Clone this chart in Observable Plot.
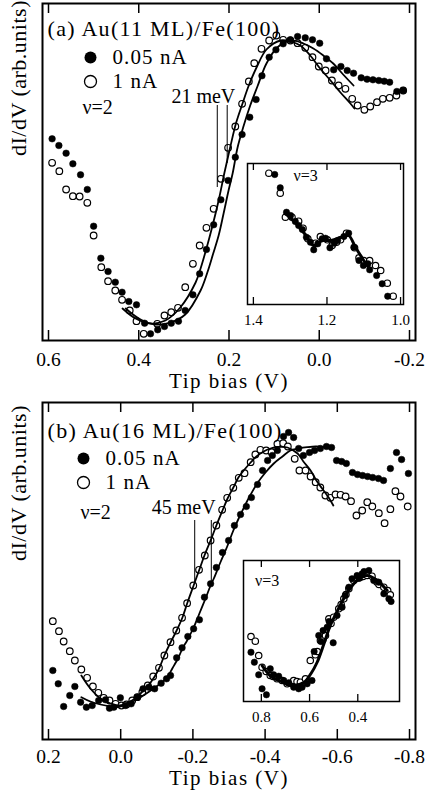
<!DOCTYPE html>
<html><head><meta charset="utf-8">
<script src="https://cdn.jsdelivr.net/npm/d3@7"></script>
<script src="https://cdn.jsdelivr.net/npm/@observablehq/plot@0.6"></script>
<style>
body{margin:0;background:#fff}
#fig{position:relative;width:428px;height:795px;background:#fff;overflow:hidden}
#fig svg{position:absolute;overflow:visible;background:transparent}
#fig svg, #fig svg text, #fig svg g{font-family:"Liberation Serif","Times New Roman",serif !important}
</style></head><body><div id="fig"></div>
<script>
// ---------- Panel (a): Au(11 ML)/Fe(100) ----------
const aTitle = "(a) Au(11 ML)/Fe(100)";
const aTicks = [0.6, 0.4, 0.2, 0.0, -0.2];
const aTickLabels = ["0.6", "0.4", "0.2", "0.0", "-0.2"];
const aFilled = [[0.592,201.7],[0.577,195],[0.561,187.3],[0.546,176.7],[0.529,165.7],[0.514,151],[0.500,114.3],[0.484,82.3],[0.468,69],[0.452,58.3],[0.437,48.3],[0.422,39],[0.405,35.7],[0.387,17.3],[0.374,6.7],[0.358,10.7],[0.343,14],[0.328,17.3],[0.312,19.3],[0.297,30],[0.280,45.7],[0.265,66.7],[0.250,91],[0.234,115.7],[0.218,140.7],[0.202,160],[0.186,183.3],[0.171,206],[0.154,223.3],[0.140,241],[0.127,264.7],[0.111,283.3],[0.096,290.7],[0.080,296.7],[0.064,300.7],[0.048,304],[0.031,302.7],[0.015,300.7],[-0.001,297.3],[-0.016,281.7],[-0.032,270.7],[-0.048,274],[-0.062,270],[-0.076,267.3],[-0.093,262.7],[-0.106,261.3],[-0.119,260.7],[-0.132,260],[-0.144,259.3],[-0.156,258.3],[-0.172,249],[-0.186,250]];
const aOpen = [[0.592,177.7],[0.576,169.3],[0.561,151],[0.546,144.3],[0.531,144],[0.514,137.7],[0.500,105],[0.483,73.3],[0.468,59.3],[0.452,50],[0.437,40.7],[0.420,30],[0.405,19.3],[0.389,6.7],[0.359,16.7],[0.343,25],[0.328,28.3],[0.313,32.7],[0.297,53.3],[0.280,76.7],[0.265,95],[0.250,112.7],[0.234,131.7],[0.218,161.7],[0.202,192.7],[0.186,214],[0.171,236.7],[0.156,259],[0.144,277.3],[0.128,291.7],[0.111,300],[0.095,305],[0.080,300.7],[0.064,300],[0.048,297.3],[0.031,292.7],[0.015,283.3],[0.001,274],[-0.014,270],[-0.028,260],[-0.043,255],[-0.058,251.7],[-0.073,241.7],[-0.085,235],[-0.100,230.7],[-0.113,234],[-0.128,238.3],[-0.141,241.7],[-0.156,242.7],[-0.171,245],[-0.186,250]];
const aOpenFit = [[0.436,32],[0.407,22],[0.374,17],[0.341,20],[0.308,33],[0.274,58],[0.263,72],[0.250,92],[0.237,114],[0.223,140],[0.210,168],[0.197,194],[0.184,218],[0.170,237],[0.157,254],[0.139,273],[0.117,291],[0.086,300],[0.064,299],[0.042,295],[0.020,285],[-0.002,272],[-0.025,260],[-0.047,248],[-0.069,237],[-0.078,232]];
const aFilledFit = [[0.429,32],[0.396,21],[0.363,16],[0.330,18],[0.297,26],[0.263,50],[0.248,68],[0.235,87],[0.223,105],[0.212,127],[0.201,150],[0.192,167],[0.181,193],[0.168,214],[0.153,235],[0.137,254],[0.117,277],[0.093,293],[0.064,300],[0.035,297],[0.013,292],[-0.009,285],[-0.031,277],[-0.053,266],[-0.076,255]];
const aMarkers = [[0.226,235,153],[0.204,235,177]];   // x, y top, y bottom
const aGap = {label: "21 meV", x: 0.186, y: 243.5};
// inset (a), ν=3
const aiTicks = [1.4, 1.2, 1.0];
const aiTickLabels = ["1.4", "1.2", "1.0"];
const aiFilled = [[1.342,130],[1.327,116.7],[1.310,92.3],[1.299,89],[1.286,83],[1.277,79],[1.267,75],[1.256,67.3],[1.245,62.3],[1.236,54.7],[1.225,60.7],[1.213,65.7],[1.204,66.3],[1.192,56.7],[1.180,61.3],[1.171,64],[1.154,68],[1.141,71.3],[1.127,57.3],[1.113,44],[1.101,39],[1.089,40.7],[1.084,34.7],[1.065,29],[1.050,20.7],[1.035,8.3]];
const aiOpen = [[1.358,131.3],[1.327,111.3],[1.313,87.3],[1.295,87.3],[1.277,83.3],[1.265,76.3],[1.252,65.7],[1.231,61.3],[1.218,68],[1.199,64.7],[1.186,59],[1.174,62.3],[1.163,64.7],[1.147,71.3],[1.125,56.7],[1.113,46.7],[1.100,44],[1.084,44],[1.068,39],[1.054,34],[1.036,21.3],[1.020,8.3]];
const aiFit = [[1.313,91],[1.286,82],[1.259,70],[1.236,59],[1.213,64],[1.190,64],[1.154,68],[1.141,69],[1.122,57],[1.100,44],[1.086,37]];

// ---------- Panel (b): Au(16 ML)/Fe(100) ----------
const bTitle = "(b) Au(16 ML)/Fe(100)";
const bTicks = [0.2, 0.0, -0.2, -0.4, -0.6, -0.8];
const bTickLabels = ["0.2", "0.0", "-0.2", "-0.4", "-0.6", "-0.8"];
const bFilled = [[0.188,69],[0.173,55.7],[0.158,33],[0.141,44],[0.127,53],[0.111,37.3],[0.095,32.3],[0.079,34],[0.061,39],[0.042,39.7],[0.031,31.3],[0.019,32.3],[0.001,41.7],[-0.013,34],[-0.029,35.7],[-0.046,42.3],[-0.062,50.7],[-0.078,52.3],[-0.094,50.7],[-0.112,56.3],[-0.127,60.7],[-0.138,64],[-0.155,81.7],[-0.170,91.7],[-0.186,103],[-0.202,110.7],[-0.218,119.7],[-0.232,142.3],[-0.249,155.7],[-0.265,172],[-0.282,187],[-0.299,199],[-0.315,214],[-0.332,225],[-0.348,233],[-0.362,242],[-0.379,255],[-0.393,269],[-0.407,279],[-0.420,284],[-0.434,289],[-0.451,303],[-0.465,307],[-0.479,302],[-0.493,291],[-0.506,284],[-0.523,287],[-0.537,289],[-0.553,291],[-0.570,293],[-0.584,292],[-0.598,279],[-0.612,278],[-0.625,276],[-0.642,267],[-0.656,265],[-0.670,264],[-0.684,263],[-0.698,262],[-0.714,261],[-0.728,259],[-0.747,271],[-0.764,287],[-0.778,280],[-0.797,266]];
const bOpen = [[0.188,118.3],[0.171,108.3],[0.158,98],[0.141,88.3],[0.127,79],[0.109,70],[0.093,61.7],[0.077,53],[0.062,46.7],[0.047,41.7],[0.031,39],[0.014,35.7],[-0.002,34],[-0.016,35],[-0.032,39],[-0.046,42.3],[-0.060,47.3],[-0.075,54],[-0.090,63],[-0.106,71.7],[-0.121,84],[-0.138,97.3],[-0.154,109],[-0.170,121.7],[-0.184,136.3],[-0.201,154],[-0.217,169.7],[-0.233,184],[-0.249,199],[-0.265,214],[-0.281,229.7],[-0.295,241.7],[-0.312,251.7],[-0.327,261.7],[-0.343,266.3],[-0.360,277.3],[-0.373,285],[-0.387,289.7],[-0.403,289],[-0.418,287.3],[-0.434,295.7],[-0.450,296.3],[-0.463,293],[-0.482,280.7],[-0.495,269],[-0.512,269],[-0.526,263],[-0.540,257.3],[-0.553,252],[-0.567,244],[-0.581,241.7],[-0.595,245],[-0.609,244.7],[-0.623,243],[-0.638,238.3],[-0.653,224],[-0.669,229],[-0.683,237.3],[-0.697,233],[-0.715,226.3],[-0.731,216.3],[-0.747,230.3],[-0.761,248.3],[-0.775,243],[-0.795,233]];
const bOpenFit = [[0.109,64],[0.084,51],[0.056,41],[0.028,36],[0.005,34],[-0.027,38],[-0.055,46],[-0.083,57],[-0.105,70],[-0.121,84],[-0.138,97],[-0.155,109],[-0.171,122],[-0.185,137],[-0.202,154],[-0.218,170],[-0.232,184],[-0.249,199],[-0.265,214],[-0.282,229],[-0.296,241],[-0.312,252],[-0.326,262],[-0.343,270],[-0.360,277],[-0.376,283],[-0.396,288],[-0.415,291],[-0.434,292.5],[-0.462,292],[-0.490,286],[-0.506,278],[-0.526,269],[-0.542,259],[-0.562,249],[-0.576,242],[-0.589,234]];
const bFilledFit = [[0.109,42.3],[0.084,38],[0.056,35],[0.028,33],[0.010,32.3],[-0.022,36],[-0.055,42.3],[-0.083,49],[-0.110,56],[-0.129,62.3],[-0.143,71],[-0.160,82],[-0.171,91],[-0.184,99],[-0.202,112],[-0.218,126],[-0.235,141],[-0.249,154],[-0.258,161],[-0.276,177],[-0.295,193],[-0.312,209],[-0.332,225],[-0.354,241],[-0.378,256],[-0.401,267],[-0.424,276],[-0.448,283],[-0.470,289],[-0.493,291],[-0.517,292.3],[-0.540,293],[-0.563,292.5],[-0.581,291]];
const bMarkers = [[-0.205,219,157],[-0.251,219,154]];
const bGap = {label: "45 meV", x: -0.263, y: 231.5};
// inset (b), ν=3
const biTicks = [0.8, 0.6, 0.4];
const biTickLabels = ["0.8", "0.6", "0.4"];
const biFilled = [[0.843,49.3],[0.829,39.3],[0.811,26.7],[0.797,12.7],[0.779,6.7],[0.763,32.7],[0.749,26.7],[0.728,25.3],[0.707,21],[0.686,18.7],[0.666,14.3],[0.645,12.7],[0.631,14.3],[0.610,17.7],[0.590,21],[0.581,50],[0.562,66],[0.553,60],[0.544,71],[0.527,74.3],[0.519,80],[0.502,58.7],[0.486,86],[0.465,94.3],[0.452,106],[0.437,114.3],[0.424,122.7],[0.403,126],[0.395,123],[0.382,127.7],[0.374,130],[0.354,131],[0.334,121],[0.313,119.3],[0.292,107.7],[0.271,102.7],[0.262,100]];
const biOpen = [[0.843,65],[0.825,60.3],[0.811,46],[0.797,34.3],[0.780,30],[0.763,26],[0.751,25],[0.735,22.7],[0.714,21],[0.693,17.7],[0.666,21],[0.652,20],[0.638,19.3],[0.617,22.7],[0.597,41],[0.576,46.7],[0.568,50],[0.555,61],[0.545,62],[0.534,66],[0.520,82.7],[0.511,78],[0.500,84.3],[0.479,92.7],[0.469,97],[0.458,102.7],[0.449,107],[0.437,112.7],[0.417,121],[0.389,124.3],[0.378,125],[0.361,126],[0.341,125.3],[0.320,119.3],[0.312,117],[0.292,114.3],[0.276,111],[0.265,106.7]];
const biFit = [[0.797,36],[0.760,25],[0.718,20],[0.680,16],[0.624,19],[0.594,28],[0.569,39],[0.540,58],[0.514,76],[0.486,90],[0.458,103],[0.432,113],[0.403,121],[0.361,126],[0.320,121],[0.278,111]];

const legendLabels = ["0.05 nA", "1 nA"];
const nu2 = "ν=2", nu3 = "ν=3";
const xLabel = "Tip bias (V)";
const yLabel = "dI/dV (arb.units)";

// ---------- drawing ----------
const serif = "Liberation Serif";
const fig = document.getElementById("fig");

function framePlot(c) {
  const innerH = c.height - c.mt - c.mb;
  const lab = new Map(c.ticks.map((t, i) => [t, c.tickLabels[i]]));
  const svg = Plot.plot({
    width: c.width, height: c.height,
    marginLeft: c.ml, marginRight: c.mr, marginTop: c.mt, marginBottom: c.mb,
    x: {domain: c.xDomain, axis: null},
    y: {domain: c.yDomain, axis: null},
    style: {fontFamily: serif, background: "transparent", color: "black", overflow: "visible"},
    marks: [
      Plot.tickX(c.ticks, {x: d => d, insetTop: innerH - c.tickLen, stroke: "black", strokeWidth: c.tickW}),
      Plot.tickX(c.ticks, {x: d => d, insetBottom: innerH - c.tickLen, stroke: "black", strokeWidth: c.tickW}),
      Plot.axisX(c.ticks, {tickSize: 0, tickPadding: c.tickPad, tickFormat: d => lab.get(d), fontSize: c.tickFont, fontFamily: serif, label: null, fill: "black"}),
      ...c.marks,
      Plot.frame({stroke: "black", strokeWidth: c.frameW})
    ]
  });
  svg.style.left = c.left + "px";
  svg.style.top = c.top + "px";
  fig.appendChild(svg);
}

const xy = {x: d => d[0], y: d => d[1]};
function dataMarks(filled, open, fits, r, fitW) {
  return [
    Plot.dot(open, {...xy, r: r, fill: "white", stroke: "black", strokeWidth: 1.2}),
    Plot.dot(filled, {...xy, r: r, fill: "black", stroke: "black", strokeWidth: 0.5}),
    ...fits.map(f => Plot.line(f, {...xy, stroke: "black", strokeWidth: fitW, curve: "catmull-rom"}))
  ];
}
function annotations(title, tdy, legDx, legDy, nuDx, nuDy, markers, gap, ylabDy, xlabDy) {
  const T = {fontFamily: serif, fill: "black", textAnchor: "start", lineAnchor: "middle", frameAnchor: "top-left"};
  return [
    Plot.text([title], {...T, text: d => d, fontSize: 22, dx: 5, dy: tdy}),
    Plot.dot([legendLabels[0]], {frameAnchor: "top-left", dx: legDx, dy: legDy, r: 6, fill: "black"}),
    Plot.dot([legendLabels[1]], {frameAnchor: "top-left", dx: legDx, dy: legDy + 24, r: 6, fill: "white", stroke: "black", strokeWidth: 1.3}),
    ...legendLabels.map((s, i) => Plot.text([s], {...T, text: d => d, fontSize: 21, dx: legDx + 22, dy: legDy + 24 * i})),
    Plot.text([nu2], {...T, text: d => d, fontSize: 20, dx: nuDx, dy: nuDy}),
    Plot.ruleX(markers, {x: d => d[0], y1: d => d[1], y2: d => d[2], stroke: "black", strokeWidth: 1}),
    Plot.text([gap], {x: d => d.x, y: d => d.y, text: d => d.label, fontFamily: serif, fontSize: 20, textAnchor: "end", lineAnchor: "middle", fill: "black"}),
    Plot.text([xLabel], {frameAnchor: "bottom", text: d => d, fontFamily: serif, fontSize: 21, lineAnchor: "top", dy: xlabDy, fill: "black"}),
    Plot.text([yLabel], {frameAnchor: "left", text: d => d, fontFamily: serif, fontSize: 22, rotate: -90, lineAnchor: "middle", dx: -24, dy: ylabDy, fill: "black"})
  ];
}

// Panel a
framePlot({
  left: 0, top: 0, width: 428, height: 395, ml: 42, mr: 13, mt: 3, mb: 55,
  xDomain: [0.6133, -0.2133], yDomain: [0, 337],
  ticks: aTicks, tickLabels: aTickLabels, tickLen: 10, tickW: 1.5, tickPad: 12, tickFont: 19.5, frameW: 2,
  marks: [
    ...dataMarks(aFilled, aOpen, [aOpenFit, aFilledFit], 3.3, 1.8),
    ...annotations(aTitle, 25.5, 48, 54, 40, 104.5, aMarkers, aGap, -16, 33)
  ]
});
// Inset a
framePlot({
  left: 237, top: 161, width: 176, height: 173, ml: 10, mr: 10, mt: 2, mb: 30,
  xDomain: [1.416, 0.992], yDomain: [0, 141],
  ticks: aiTicks, tickLabels: aiTickLabels, tickLen: 7, tickW: 1.3, tickPad: 10, tickFont: 15, frameW: 1.5,
  marks: [
    ...dataMarks(aiFilled, aiOpen, [aiFit], 3.2, 3),
    Plot.text([nu3], {frameAnchor: "top-left", text: d => d, dx: 46, dy: 12, fontSize: 16, fontFamily: serif, textAnchor: "start", lineAnchor: "middle", fill: "black"})
  ]
});
// Panel b
framePlot({
  left: 0, top: 395, width: 428, height: 400, ml: 42, mr: 13, mt: 7, mb: 56,
  xDomain: [0.2166, -0.8166], yDomain: [0, 337],
  ticks: bTicks, tickLabels: bTickLabels, tickLen: 10, tickW: 1.5, tickPad: 10, tickFont: 19.5, frameW: 2,
  marks: [
    ...dataMarks(bFilled, bOpen, [bOpenFit, bFilledFit], 3.3, 1.8),
    ...annotations(bTitle, 28, 41, 56, 38, 110, bMarkers, bGap, -10, 31)
  ]
});
// Inset b
framePlot({
  left: 232.5, top: 558, width: 176, height: 173, ml: 10, mr: 10, mt: 2, mb: 30,
  xDomain: [0.874, 0.227], yDomain: [0, 141],
  ticks: biTicks, tickLabels: biTickLabels, tickLen: 7, tickW: 1.3, tickPad: 10, tickFont: 15, frameW: 1.5,
  marks: [
    ...dataMarks(biFilled, biOpen, [biFit], 3.2, 3),
    Plot.text([nu3], {frameAnchor: "top-left", text: d => d, dx: 11.5, dy: 20, fontSize: 16, fontFamily: serif, textAnchor: "start", lineAnchor: "middle", fill: "black"})
  ]
});

// the reference's serif face is set slightly wider: widen a few labels
const spacing = new Map([[aTitle, 1.3], [bTitle, 1.3], [legendLabels[0], 1.1], [legendLabels[1], 1.1], [xLabel, 1.5], [yLabel, 0.5]]);
d3.selectAll("#fig text").each(function () {
  const s = spacing.get(this.textContent);
  if (s) this.setAttribute("letter-spacing", s);
});
</script></body></html>
